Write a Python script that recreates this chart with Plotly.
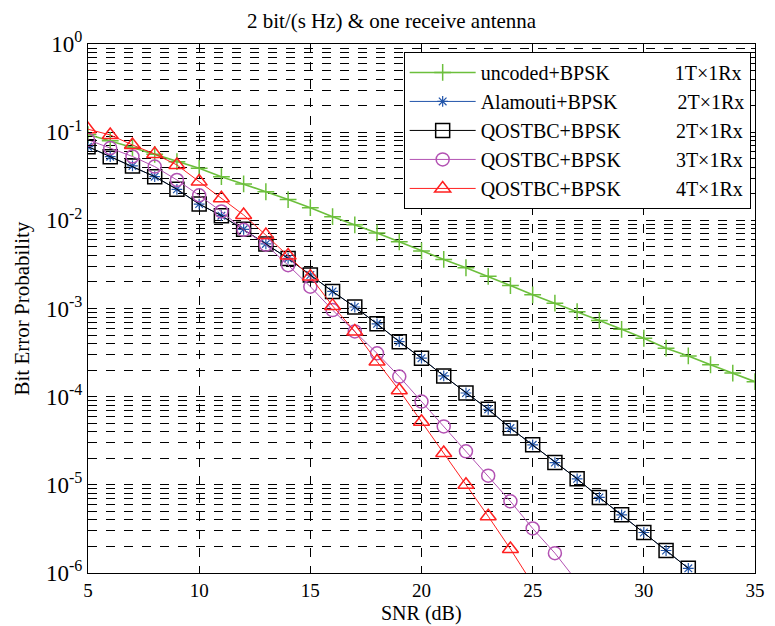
import plotly.graph_objects as go

snr = list(range(5, 36))

uncoded_1t = [0.094, 0.080, 0.067, 0.056, 0.0463, 0.039, 0.0313, 0.0259, 0.0211, 0.0172,
              0.0139, 0.0110, 0.0089, 0.0072, 0.0057, 0.0045, 0.0036, 0.0029, 0.00232, 0.00182,
              0.00143, 0.00115, 0.00092, 0.00073, 0.00058, 0.00046, 0.000355, 0.00029, 0.00023,
              0.000185, 0.000148]

snr_2t = list(range(5, 33))
alamouti_2t = [0.0685, 0.0527, 0.0414, 0.0313, 0.0225, 0.0153, 0.0113, 0.0079, 0.0054, 0.0037,
               0.0024, 0.00156, 0.00104, 0.00067, 0.00042, 0.000273, 0.000172, 0.00011, 7.2e-5,
               4.4e-5, 2.84e-5, 1.79e-5, 1.17e-5, 7.2e-6, 4.57e-6, 2.88e-6, 1.8e-6, 1.13e-6]
qostbc_2t = [0.0685, 0.0527, 0.0414, 0.0313, 0.0225, 0.0153, 0.0113, 0.0079, 0.0054, 0.0037,
             0.0024, 0.00156, 0.00104, 0.00067, 0.00042, 0.000273, 0.000172, 0.00011, 7.2e-5,
             4.4e-5, 2.84e-5, 1.79e-5, 1.17e-5, 7.2e-6, 4.57e-6, 2.88e-6, 1.8e-6, 1.13e-6]

snr_3t = list(range(5, 28))
qostbc_3t = [0.082, 0.066, 0.053, 0.0407, 0.0287, 0.0192, 0.0126, 0.0078, 0.0053, 0.0031,
             0.00177, 0.00096, 0.00055, 0.00031, 0.000169, 8.8e-5, 4.6e-5, 2.4e-5, 1.27e-5,
             6.5e-6, 3.2e-6, 1.68e-6, 8.0e-7]

snr_4t = list(range(5, 26))
qostbc_4t = [0.108, 0.093, 0.0716, 0.0566, 0.0425, 0.0275, 0.0178, 0.0115, 0.0068, 0.0040,
             0.0023, 0.00107, 0.00055, 0.00025, 0.000118, 5.2e-5, 2.3e-5, 1.0e-5, 4.4e-6,
             1.87e-6, 7.5e-7]

names = ["uncoded+BPSK", "Alamouti+BPSK", "QOSTBC+BPSK", "QOSTBC+BPSK", "QOSTBC+BPSK"]
configs = ["1T\u00d71Rx", "2T\u00d71Rx", "2T\u00d71Rx", "3T\u00d71Rx", "4T\u00d71Rx"]
pads = [13, 12, 11, 11, 11]

x_ticks = [5, 10, 15, 20, 25, 30, 35]
decades = [-6, -5, -4, -3, -2, -1, 0]

FONT = "Liberation Serif"

fig = go.Figure()

series = [
    (snr, uncoded_1t, "#6cbf3c", "cross-thin-open", 12, 1.6),
    (snr_2t, alamouti_2t, "#2255aa", "asterisk-open", 9, 1),
    (snr_2t, qostbc_2t, "#000000", "square-open", 14, 1),
    (snr_3t, qostbc_3t, "#b352b3", "circle-open", 13, 1),
    (snr_4t, qostbc_4t, "#ff2020", "triangle-up-open", 14, 1),
]

for i, (xs, ys, col, sym, sz, lw) in enumerate(series):
    label = names[i] + "\u00a0" * pads[i] + configs[i]
    fig.add_trace(go.Scatter(
        x=xs, y=ys, mode="lines+markers", name=label,
        line=dict(color=col, width=lw),
        marker=dict(symbol=sym, size=sz, color=col,
                    line=dict(color=col, width=1.5 if sym != "asterisk-open" else 1.2)),
    ))

# y ticks: majors labelled, minors unlabeled (for grid lines)
yvals, ytext = [], []
for d in decades:
    for m in range(1, 10):
        if d == 0 and m > 1:
            break
        yvals.append(m * 10.0 ** d)
        ytext.append(f"10<sup>{d}</sup>" if m == 1 else "")

# page body has an 8px default margin; size the figure to fit the window
fig.update_layout(
    width=767, height=618,
    margin=dict(l=80, r=20, t=36, b=53, autoexpand=False),
    paper_bgcolor="white", plot_bgcolor="white",
    font=dict(family=FONT, size=20, color="black"),
    title=dict(text="2 bit/(s Hz) &amp; one receive antenna", x=0.5, xanchor="center",
               y=0.979, yanchor="middle", font=dict(family=FONT, size=21)),
    legend=dict(x=0.9935, y=0.985, xanchor="right", yanchor="top",
                bgcolor="white", bordercolor="black", borderwidth=1,
                font=dict(family=FONT, size=20), itemwidth=66),
    xaxis=dict(range=[5, 35], tickvals=x_ticks, ticktext=[str(v) for v in x_ticks],
               showgrid=True, gridcolor="black", griddash="dash", gridwidth=1,
               ticks="inside", ticklen=5, tickcolor="black",
               showline=True, linecolor="black", linewidth=1, mirror="ticks",
               zeroline=False, automargin=False,
               tickfont=dict(family=FONT, size=19)),
    yaxis=dict(type="log", range=[-6, 0], tickvals=yvals, ticktext=ytext,
               showgrid=True, gridcolor="black", griddash="dash", gridwidth=1,
               ticks="inside", ticklen=4, tickcolor="black",
               showline=True, linecolor="black", linewidth=1, mirror="ticks",
               zeroline=False, automargin=False,
               tickfont=dict(family=FONT, size=23)),
    annotations=[
        dict(text="SNR (dB)", xref="paper", yref="paper", x=0.5, y=-0.077,
             xanchor="center", yanchor="middle", showarrow=False,
             font=dict(family=FONT, size=20)),
        dict(text="Bit Error Probability", xref="paper", yref="paper", x=-0.099, y=0.5,
             xanchor="center", yanchor="middle", showarrow=False, textangle=-90,
             font=dict(family=FONT, size=21)),
    ],
)

fig.write_html("out.html")
